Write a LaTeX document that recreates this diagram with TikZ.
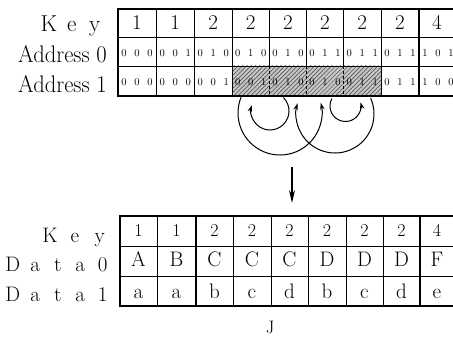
\documentclass[tikz,border=0pt]{standalone}
\usepackage{fontspec}
\usetikzlibrary{arrows.meta,patterns.meta}
\newcommand\lsp[2]{\makebox[#1]{#2}}
\newcommand\bitsof[3]{\lsp{13pt}{#1}\lsp{13pt}{#2}\lsp{13pt}{#3}}
\tikzset{
  thinl/.style={line width=0.9pt},
  thickl/.style={line width=1.7pt},
  cellt/.style={inner sep=0pt,anchor=base},
  topkey/.style={cellt,font=\fontsize{21}{21}\selectfont},
  bitfont/.style={cellt,font=\fontsize{10.5}{11}\selectfont},
  botkey/.style={cellt,font=\fontsize{18}{18}\selectfont},
  datafont/.style={cellt,font=\fontsize{21}{21}\selectfont},
  rowlabel/.style={inner sep=0pt,anchor=base east,font=\fontsize{21}{21}\selectfont},
  addrlabel/.style={inner sep=0pt,anchor=base east,font=\fontsize{24}{24}\selectfont},
  loop/.style={line width=1pt,-{Stealth[length=7pt,width=4.5pt]}},
  downarrow/.style={line width=1.3pt,-{Stealth[length=13pt,width=6pt]}}
}
\begin{document}
\begin{tikzpicture}[x=1pt,y=1pt]
\useasboundingbox (0,0) rectangle (453,338);
\clip (0,0) rectangle (453,338);
% ---------- top table ----------
\fill[gray!45] (232,242) rectangle (381,272);
\fill[pattern={Lines[angle=45,distance=3pt,line width=0.5pt]},pattern color=black!75] (232,242) rectangle (381,272);
\draw[thinl] (118,301) -- (457,301);
\draw[thinl] (118,272) -- (457,272);
\foreach \x in {156,232,381}{\draw[thinl] (\x,329) -- (\x,242);}
\foreach \x in {269.5,306.5,343.5}{
  \draw[thinl] (\x,329) -- (\x,272);
  \draw[line width=0.6pt,densely dashed] (\x,272) -- (\x,242);}
\foreach \x in {194.5,419}{\draw[thickl] (\x,329) -- (\x,242);}
\draw[thickl] (118,242) rectangle (457,329);
% keys
\foreach \c/\x/\k in {1/137/1,2/175.25/1,3/213.25/2,4/250.75/2,5/288/2,6/325/2,7/362.25/2,8/400/2,9/437/4}{
  \node[topkey] (tk\c) at (\x,308.7) {\k};}
% address 0
\foreach \c/\x/\a/\b/\d in {1/137/0/0/0,2/175.25/0/0/1,3/213.25/0/1/0,4/250.75/0/1/0,5/288/0/1/0,6/325/0/1/1,7/362.25/0/1/1,8/400/0/1/1,9/438/1/0/1}{
  \node[bitfont] (ta\c) at (\x,281.3) {\bitsof{\a}{\b}{\d}};}
% address 1
\foreach \c/\x/\a/\b/\d in {1/137/0/0/0,2/175.25/0/0/0,3/213.25/0/0/1,4/250.75/0/0/1,5/288/0/1/0,6/325/0/1/0,7/362.25/0/1/1,8/400/0/1/1,9/438/1/0/0}{
  \node[bitfont] (tb\c) at (\x,252.3) {\bitsof{\a}{\b}{\d}};}
% labels
\node[inner sep=0pt,anchor=base east,font=\fontsize{23}{23}\selectfont] (lkey1) at (106.5,306)
  {\lsp{23pt}{K}\lsp{23pt}{e}\lsp{23pt}{y}};
\node[addrlabel] (la0) at (107,275) {\scalebox{0.94}[1]{Address 0}};
\node[addrlabel] (la1) at (107,245.5) {\scalebox{0.94}[1]{Address 1}};
% ---------- loops ----------
\coordinate (l1s) at ({280+42*cos(158)},{225+42*sin(158)});
\draw[loop] (l1s) arc[start angle=158,end angle=374,radius=42];
\coordinate (l2s) at ({270+19*cos(45)},{227+19*sin(45)});
\draw[loop] (l2s) arc[start angle=45,end angle=-198,radius=19];
\coordinate (l3s) at ({335+39*cos(24)},{224+39*sin(24)});
\draw[loop] (l3s) arc[start angle=24,end angle=-196,radius=39];
\coordinate (l4s) at ({345.5+15.5*cos(151)},{232+15.5*sin(151)});
\draw[loop] (l4s) arc[start angle=151,end angle=374,radius=15.5];
% ---------- down arrow ----------
\coordinate (vs) at (292,171);
\coordinate (ve) at (292,135);
\draw[downarrow] (vs) -- (ve);
% ---------- bottom table ----------
\draw[thinl] (120,92) -- (458,92);
\draw[thinl] (120,62) -- (458,62);
\foreach \x in {157,233,271,308,346,383}{\draw[thinl] (\x,122) -- (\x,32);}
\foreach \x in {196,420}{\draw[thickl] (\x,122) -- (\x,32);}
\draw[thickl] (120,32) rectangle (458,122);
\foreach \c/\x/\k/\d/\e in {1/138.5/1/A/a,2/176.5/1/B/a,3/214.5/2/C/b,4/252/2/C/c,5/289.5/2/C/d,6/327/2/D/b,7/364.5/2/D/c,8/401.5/2/D/d,9/437/4/F/e}{
  \node[botkey] (bk\c) at (\x,101.3) {\k};
  \node[datafont] (bd\c) at (\x,71.3) {\d};
  \node[datafont] (be\c) at (\x,40) {\e};}
\node[rowlabel] (lkey2) at (112.5,95.3) {\lsp{25pt}{K}\lsp{25pt}{e}\lsp{25pt}{y}};
\node[rowlabel] (ld0) at (114.25,66.3) {\lsp{22.5pt}{D}\lsp{22.5pt}{a}\lsp{22.5pt}{t}\lsp{22.5pt}{a}\lsp{22.5pt}{0}};
\node[rowlabel] (ld1) at (114.25,36.3) {\lsp{22.5pt}{D}\lsp{22.5pt}{a}\lsp{22.5pt}{t}\lsp{22.5pt}{a}\lsp{22.5pt}{1}};
\node[inner sep=0pt,anchor=base,font=\fontsize{18}{18}\selectfont] (jlab) at (270,5) {J};
\end{tikzpicture}
\end{document}
